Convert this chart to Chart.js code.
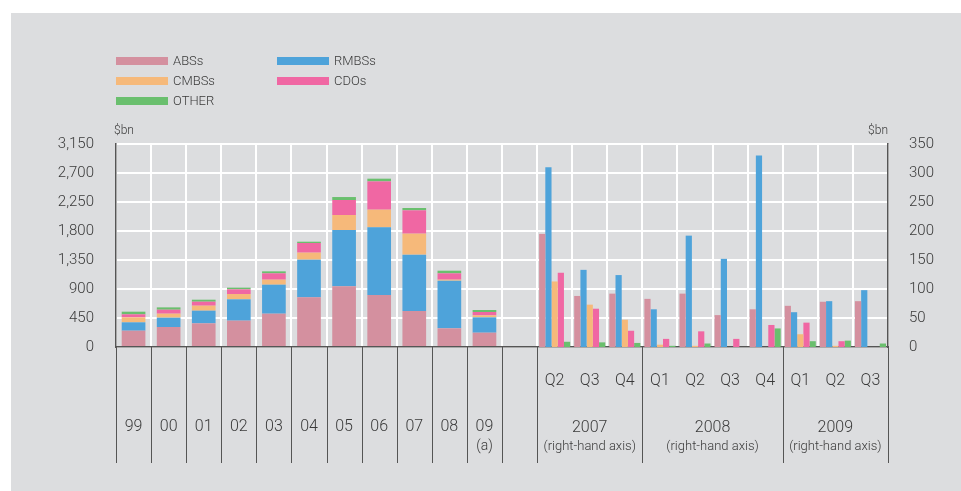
<!DOCTYPE html>
<html>
<head>
<meta charset="utf-8">
<script src="https://cdn.jsdelivr.net/npm/chart.js@4"></script>
<style>
  body { margin: 0; background: #ffffff; font-family: Roboto, "Liberation Sans", sans-serif; }
  #panel { position: absolute; left: 11px; top: 13px; width: 950px; height: 478px; background: #dcdddf; }
  #wrap { position: absolute; left: 0; top: 0; width: 961px; height: 491px; }
  .legend-item { position: absolute; height: 16px; font-size: 13px; font-weight: 300; color: #3a3a3a; line-height: 16px; }
  .legend-item span.sw { position: absolute; left: 0; top: 4px; width: 52px; height: 8px; }
  .legend-item span.tx { position: absolute; left: 57px; top: 0; white-space: nowrap; }
</style>
</head>
<body>
<div id="panel"></div>
<div id="wrap"><canvas id="chartMbs" width="961" height="491"></canvas></div>
<div id="legend"></div>
<script>
// Emissões de títulos securitizados: anual (eixo esquerdo, empilhado) e trimestral (eixo direito, agrupado)

const years = ['99', '00', '01', '02', '03', '04', '05', '06', '07', '08', '09'];
const quarters = ['Q2', 'Q3', 'Q4', 'Q1', 'Q2', 'Q3', 'Q4', 'Q1', 'Q2', 'Q3'];
const quarterYears = ['2007', '2007', '2007', '2008', '2008', '2008', '2008', '2009', '2009', '2009'];

const seriesNames = ['ABSs', 'RMBSs', 'CMBSs', 'CDOs', 'OTHER'];
const seriesColors = ['#d4909f', '#4ea3da', '#f6b97a', '#f067a3', '#6abf6e'];

// valores anuais ($bn, eixo esquerdo)
const absAnnual = [253, 310, 367, 409, 517, 771, 941, 807, 559, 290, 222];
const rmbsAnnual = [130, 145, 197, 331, 450, 584, 874, 1050, 874, 739, 238];
const cmbsAnnual = [77, 62, 77, 82, 78, 109, 233, 274, 326, 16, 31];
const cdoAnnual = [47, 62, 62, 73, 98, 150, 233, 439, 362, 98, 52];
const otherAnnual = [41, 36, 31, 26, 31, 20, 46, 42, 36, 41, 31];

// valores trimestrais ($bn, eixo direito)
const absQuarterly = [195, 88, 92, 83, 92, 55, 65, 71, 78, 79];
const rmbsQuarterly = [310, 133, 124, 65, 192, 152, 330, 60, 79, 98];
const cmbsQuarterly = [113, 73, 47, 4, 2, 0, 0, 22, 2, 0];
const cdoQuarterly = [128, 66, 28, 14, 27, 14, 38, 42, 10, 0];
const otherQuarterly = [9, 8, 7, 2, 6, 0, 32, 10, 11, 6];

const leftTicks = [0, 450, 900, 1350, 1800, 2250, 2700, 3150];
const rightTicks = [0, 50, 100, 150, 200, 250, 300, 350];

const annualSeries = [absAnnual, rmbsAnnual, cmbsAnnual, cdoAnnual, otherAnnual];
const quarterlySeries = [absQuarterly, rmbsQuarterly, cmbsQuarterly, cdoQuarterly, otherQuarterly];

// categorias: anos, uma coluna vazia, trimestres
const labels = [...years, '', ...quarters];
const gapCount = 1;
const nullsAnnualTail = new Array(gapCount + quarters.length).fill(null);
const nullsQuarterHead = new Array(years.length + gapCount).fill(null);

const FONT = 'Roboto, "Liberation Sans", sans-serif';
const TEXT = '#3a3a3a';
const AXIS = '#555555';

const datasets = [];
annualSeries.forEach((vals, i) => {
  datasets.push({
    label: seriesNames[i],
    data: [...vals, ...nullsAnnualTail],
    backgroundColor: seriesColors[i],
    stack: 'annual',
    yAxisID: 'y',
    categoryPercentage: 0.675,
    barPercentage: 1
  });
});
quarterlySeries.forEach((vals, i) => {
  datasets.push({
    label: seriesNames[i] + ' (trimestral)',
    data: [...nullsQuarterHead, ...vals],
    backgroundColor: seriesColors[i],
    stack: 'q' + i,
    yAxisID: 'y1',
    categoryPercentage: 0.885,
    barPercentage: 1
  });
});

// legenda em HTML (duas colunas)
const legendPos = [[116, 53], [277, 53], [116, 73], [277, 73], [116, 93]];
const legendEl = document.getElementById('legend');
seriesNames.forEach((name, i) => {
  const item = document.createElement('div');
  item.className = 'legend-item';
  item.style.left = legendPos[i][0] + 'px';
  item.style.top = legendPos[i][1] + 'px';
  item.innerHTML = '<span class="sw" style="background:' + seriesColors[i] + '"></span><span class="tx">' + name + '</span>';
  legendEl.appendChild(item);
});

// rótulos do eixo x, separadores e "$bn"
const bottomLabels = {
  id: 'bottomLabels',
  afterDraw(chart) {
    const ctx = chart.ctx;
    const x = chart.scales.x;
    const area = chart.chartArea;
    const half = (x.getPixelForValue(1) - x.getPixelForValue(0)) / 2;
    const lineBottom = 463;

    ctx.save();
    ctx.strokeStyle = AXIS;
    ctx.lineWidth = 1;
    const sepIdx = [];
    for (let i = 0; i <= years.length + gapCount; i++) sepIdx.push(i);
    for (let q = 1; q < quarterYears.length; q++) {
      if (quarterYears[q] !== quarterYears[q - 1]) sepIdx.push(years.length + gapCount + q);
    }
    sepIdx.push(labels.length);
    sepIdx.forEach(i => {
      const px = Math.round(x.getPixelForValue(i) - half) + 0.5;
      ctx.beginPath();
      ctx.moveTo(px, area.bottom);
      ctx.lineTo(px, lineBottom);
      ctx.stroke();
    });

    ctx.fillStyle = TEXT;
    ctx.textAlign = 'center';
    ctx.textBaseline = 'middle';
    ctx.font = '300 16px ' + FONT;
    years.forEach((y, i) => {
      ctx.fillText(y, x.getPixelForValue(i), 427);
    });
    ctx.font = '300 14px ' + FONT;
    ctx.fillText('(a)', x.getPixelForValue(years.length - 1), 446);

    ctx.font = '300 16px ' + FONT;
    quarters.forEach((q, i) => {
      ctx.fillText(q, x.getPixelForValue(years.length + gapCount + i), 381);
    });

    // grupos de anos dos trimestres
    let start = 0;
    for (let q = 1; q <= quarterYears.length; q++) {
      if (q === quarterYears.length || quarterYears[q] !== quarterYears[start]) {
        const a = x.getPixelForValue(years.length + gapCount + start) - half;
        const b = x.getPixelForValue(years.length + gapCount + q - 1) + half;
        const cx = (a + b) / 2;
        ctx.font = '300 16px ' + FONT;
        ctx.fillText(quarterYears[start], cx, 428);
        ctx.font = '300 13px ' + FONT;
        ctx.fillText('(right-hand axis)', cx, 447);
        start = q;
      }
    }

    ctx.font = '300 12px ' + FONT;
    ctx.textAlign = 'left';
    ctx.fillText('$bn', area.left - 2, 131);
    ctx.textAlign = 'right';
    ctx.fillText('$bn', area.right, 131);
    ctx.restore();
  }
};

document.addEventListener('DOMContentLoaded', function() {
  const el = document.getElementById('chartMbs');
  new Chart(el, {
    type: 'bar',
    data: { labels: labels, datasets: datasets },
    plugins: [bottomLabels],
    options: {
      responsive: false,
      animation: false,
      devicePixelRatio: 1,
      skipNull: true,
      layout: { padding: { top: 144, bottom: 144, left: 0, right: 0 } },
      plugins: { legend: { display: false }, tooltip: { enabled: false } },
      scales: {
        x: {
          offset: true,
          ticks: { display: false },
          grid: { color: '#ffffff', lineWidth: 2, drawTicks: false, offset: true },
          border: { color: AXIS, width: 1.5 },
          afterFit(s) { s.height = 0; }
        },
        y: {
          position: 'left',
          stacked: true,
          min: 0,
          max: 3150,
          afterBuildTicks(s) { s.ticks = leftTicks.map(v => ({ value: v })); },
          ticks: { padding: 22, color: TEXT, font: { family: FONT, size: 15, weight: 300 } },
          grid: { color: '#ffffff', lineWidth: 2, drawTicks: false },
          border: { color: AXIS, width: 1.5 },
          afterFit(s) { s.width = 116; }
        },
        y1: {
          position: 'right',
          min: 0,
          max: 350,
          afterBuildTicks(s) { s.ticks = rightTicks.map(v => ({ value: v })); },
          ticks: { padding: 21, color: TEXT, font: { family: FONT, size: 15, weight: 300 } },
          grid: { display: false, drawTicks: false },
          border: { color: AXIS, width: 1.5 },
          afterFit(s) { s.width = 73; }
        }
      }
    }
  });
});
</script>
</body>
</html>
